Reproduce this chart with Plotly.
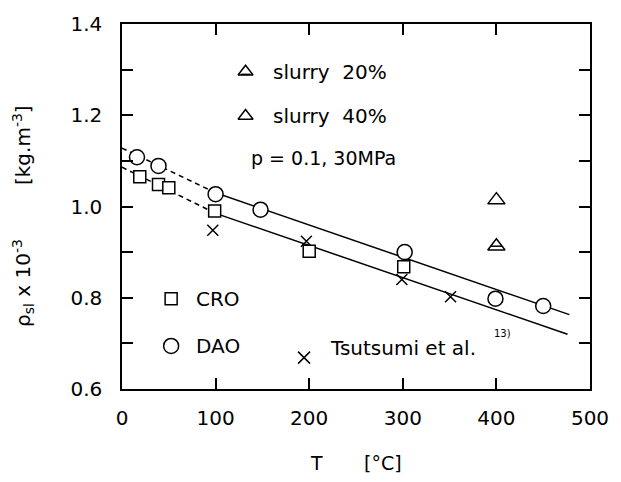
import plotly.graph_objects as go

# ---- data ----
dao_T = [16, 39, 100, 148, 302, 399, 450]
dao_rho = [1.108, 1.089, 1.027, 0.993, 0.900, 0.798, 0.782]

cro_T = [19, 39, 50, 99, 200, 301]
cro_rho = [1.065, 1.048, 1.041, 0.990, 0.902, 0.868]

tsu_T = [97, 197, 299, 351]
tsu_rho = [0.948, 0.924, 0.840, 0.802]

slurry20_T = [400]
slurry20_rho = [0.913]
slurry40_T = [400]
slurry40_rho = [1.014]

# fitted lines
dao_dash_T = [0, 100]
dao_dash_rho = [1.128, 1.030]
dao_fit_T = [100, 478]
dao_fit_rho = [1.030, 0.763]
cro_dash_T = [0, 100]
cro_dash_rho = [1.086, 0.985]
cro_fit_T = [100, 476]
cro_fit_rho = [0.985, 0.720]

x_ticks = [0, 100, 200, 300, 400, 500]
y_ticks = [0.6, 0.8, 1.0, 1.2, 1.4]

FONT = "DejaVu Sans"
BLACK = "black"

fig = go.Figure()

def line(xs, ys, dash):
    fig.add_trace(go.Scatter(x=xs, y=ys, mode="lines",
                             line=dict(color=BLACK, width=1.5, dash=dash),
                             showlegend=False, hoverinfo="skip"))

line(dao_dash_T, dao_dash_rho, "5px,4px")
line(cro_dash_T, cro_dash_rho, "5px,4px")
line(dao_fit_T, dao_fit_rho, "solid")
line(cro_fit_T, cro_fit_rho, "solid")

def pts(xs, ys, symbol, size, fill="white", xa="x", ya="y"):
    fig.add_trace(go.Scatter(x=xs, y=ys, mode="markers", xaxis=xa, yaxis=ya,
                             marker=dict(symbol=symbol, size=size, color=fill,
                                         line=dict(color=BLACK, width=1.5)),
                             showlegend=False, hoverinfo="skip"))

pts(tsu_T, tsu_rho, "x-thin-open", 11, fill=BLACK)
pts(cro_T, cro_rho, "square", 12)
pts(dao_T, dao_rho, "circle", 15)
pts(slurry40_T, slurry40_rho, "triangle-up", 15)
pts(slurry20_T, slurry20_rho, "triangle-up", 15)
pts(slurry20_T, slurry20_rho, "line-ew-open", 8, fill=BLACK)

# legend keys on an overlay axis in plot-fraction coordinates
keys = [
    ("triangle-up", 13, 0.264, 0.869, "white"),
    ("triangle-up", 13, 0.264, 0.748, "white"),
    ("square", 12, 0.105, 0.247, "white"),
    ("circle", 15, 0.105, 0.118, "white"),
    ("x-thin-open", 12, 0.389, 0.086, BLACK),
]
for sym, sz, fx, fy, fill in keys:
    pts([fx], [fy], sym, sz, fill=fill, xa="x2", ya="y2")
pts([0.264], [0.862], "line-ew-open", 7, fill=BLACK, xa="x2", ya="y2")

def txt(s, fx, fy, size=19, xanchor="left", angle=0):
    fig.add_annotation(text=s, x=fx, y=fy, xref="paper", yref="paper",
                       xanchor=xanchor, yanchor="middle", showarrow=False,
                       textangle=angle,
                       font=dict(family=FONT, size=size, color=BLACK))

NB = "\u00a0"
txt("slurry" + NB * 2 + "20%", 0.319, 0.869, size=20)
txt("slurry" + NB * 2 + "40%", 0.319, 0.748, size=20)
txt("p = 0.1, 30MPa", 0.272, 0.633)
txt("CRO", 0.153, 0.247, size=20)
txt("DAO", 0.153, 0.118, size=20)
txt("Tsutsumi et al.", 0.441, 0.113, size=20)
txt("13)", 0.790, 0.152, size=10)

# axis titles
txt("ρ<sub>sl</sub> x 10<sup>-3</sup>", -0.212, 0.290, size=20, xanchor="center", angle=-90)
txt("[kg.m<sup>-3</sup>]", -0.214, 0.668, size=20, xanchor="center", angle=-90)
txt("T", 0.416, -0.204, xanchor="center")
txt("[°C]", 0.557, -0.204, xanchor="center")

axis_common = dict(showgrid=False, zeroline=False, showline=True, linecolor=BLACK,
                   linewidth=1.5, mirror="ticks", ticks="inside", ticklen=11,
                   tickcolor=BLACK, tickwidth=1.5,
                   tickfont=dict(family=FONT, size=20, color=BLACK))

fig.update_layout(
    width=621, height=482,
    margin=dict(l=122, r=23, t=16, b=93),
    paper_bgcolor="white", plot_bgcolor="white",
    xaxis=dict(range=[0, 500], tickvals=x_ticks, ticktext=[str(v) for v in x_ticks],
               ticklabelstandoff=10, **axis_common),
    yaxis=dict(range=[0.6, 1.4], tickvals=y_ticks,
               ticktext=[f"{v:.1f}" for v in y_ticks], ticklabelstandoff=14,
               minor=dict(dtick=0.1, ticks="inside", ticklen=11, tickcolor=BLACK,
                          tickwidth=1.5, showgrid=False),
               **axis_common),
    xaxis2=dict(range=[0, 1], overlaying="x", visible=False),
    yaxis2=dict(range=[0, 1], overlaying="y", visible=False),
)

fig.write_html("out.html")
